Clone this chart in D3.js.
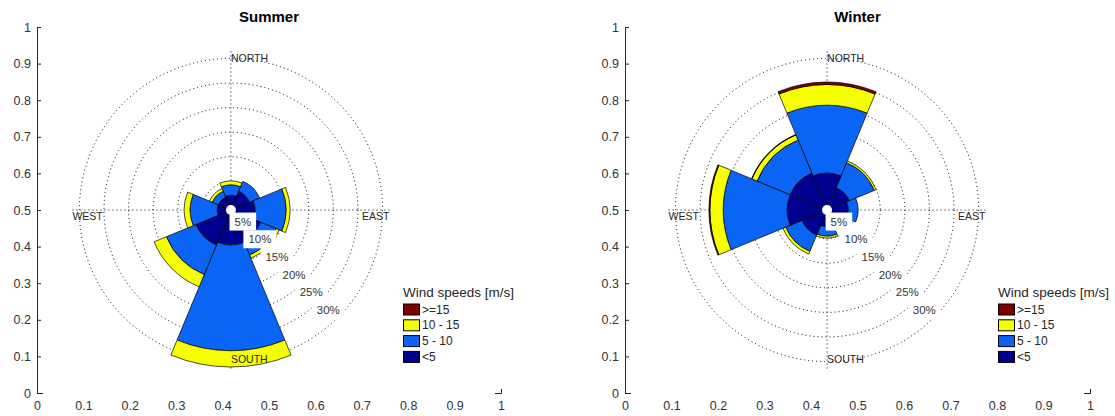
<!DOCTYPE html>
<html>
<head>
<meta charset="utf-8">
<script src="https://cdn.jsdelivr.net/npm/d3@7"></script>
<style>
  html, body { margin: 0; padding: 0; background: #fff; }
  svg text { font-family: "Liberation Sans", Arial, Helvetica, sans-serif; }
</style>
</head>
<body>
<svg id="chart" width="1115" height="416"></svg>
<script>
// ---------------- DATA ----------------
const directions = ["N", "NE", "E", "SE", "S", "SW", "W", "NW"];
const directionAngles = [0, 45, 90, 135, 180, 225, 270, 315];
const binLabels = [">=15", "10 - 15", "5 - 10", "<5"];

// Summer frequencies (%) per direction, per speed bin
const summerLt5   = [2.2, 3.3, 4.1, 5.7, 6.3, 6.9, 2.0, 2.0];
const summer5to10 = [2.1, 2.2, 6.3, 3.4, 21.5, 6.5, 5.5, 1.3];
const summer10to15 = [0.8, 0.0, 0.8, 0.7, 3.3, 2.7, 1.2, 0.6];
const summerGe15  = [0, 0, 0, 0, 0, 0, 0, 0];

// Winter frequencies (%) per direction, per speed bin
const winterLt5   = [6.7, 4.1, 3.5, 2.5, 2.6, 4.7, 7.3, 7.3];
const winter5to10 = [13.8, 5.5, 2.0, 1.0, 1.9, 3.6, 13.0, 7.3];
const winter10to15 = [4.2, 0.4, 0, 0, 0.4, 0.6, 2.7, 1.1];
const winterGe15  = [0.5, 0, 0, 0, 0, 0, 0.2, 0.1];

const ringValues = [5, 10, 15, 20, 25, 30];
const ringLabels = ["5%", "10%", "15%", "20%", "25%", "30%"];
const axisTicks = [0, 0.1, 0.2, 0.3, 0.4, 0.5, 0.6, 0.7, 0.8, 0.9, 1];
const compassLabels = ["NORTH", "EAST", "SOUTH", "WEST"];

// ---------------- STYLE ----------------
const colLt5 = "#00008f", col5to10 = "#0a64f5", col10to15 = "#f5ff00", colGe15 = "#800000";
const binColors = [colGe15, col10to15, col5to10, colLt5];

const svg = d3.select("#chart");

function drawPanel(opts) {
  const { title, x0, x1, centerX, centerY, series, legendX } = opts;
  const xs = d3.scaleLinear().domain([0, 1]).range([x0, x1]);
  const ys = d3.scaleLinear().domain([0, 1]).range([393, 27]);
  const g = svg.append("g");

  // axes
  const yAxis = d3.axisLeft(ys).tickValues(axisTicks).tickSize(-4).tickPadding(6)
      .tickFormat(d3.format("~g"));
  const xAxis = d3.axisBottom(xs).tickValues(axisTicks).tickSize(-4).tickPadding(8)
      .tickFormat(d3.format("~g"));
  const ga = g.append("g").attr("transform", `translate(${x0},0)`).call(yAxis);
  const gb = g.append("g").attr("transform", `translate(0,393)`).call(xAxis);
  [ga, gb].forEach(a => {
    a.select(".domain").attr("stroke", "#262626").attr("stroke-width", 1);
    a.selectAll(".tick line").attr("stroke", "#262626");
    a.selectAll(".tick text").attr("fill", "#333").style("font-size", "12.5px");
  });
  // white area of the rose covers most of the bottom axis line
  g.append("rect").attr("x", xs(0) + 6).attr("y", 380).attr("width", xs(1) - xs(0) - 12)
    .attr("height", 14).attr("fill", "#fff");

  // title
  g.append("text").attr("x", (x0 + x1) / 2).attr("y", 22).attr("text-anchor", "middle")
    .style("font-size", "15px").style("font-weight", "bold").attr("fill", "#000").text(title);

  const cx = xs(centerX), cy = ys(centerY);
  const r = d3.scaleLinear().domain([0, 30]).range([4, 151.6]);
  const axisR = 158.5;
  const rose = g.append("g").attr("transform", `translate(${cx},${cy})`);

  // dotted rings
  rose.selectAll("circle.ring").data(ringValues).join("circle")
    .attr("r", d => r(d)).attr("fill", "none").attr("stroke", "#000")
    .attr("stroke-width", 1).attr("stroke-dasharray", "1 3");
  // dotted cross
  rose.append("line").attr("x1", -axisR).attr("x2", axisR).attr("y1", 0).attr("y2", 0)
    .attr("stroke", "#000").attr("stroke-dasharray", "1 3");
  rose.append("line").attr("y1", -axisR).attr("y2", axisR).attr("x1", 0).attr("x2", 0)
    .attr("stroke", "#000").attr("stroke-dasharray", "1 3");

  // petals
  const stackOrder = [series.lt5, series.s5to10, series.s10to15, series.ge15];
  const stackColors = [colLt5, col5to10, col10to15, colGe15];
  const arc = d3.arc();
  const half = Math.PI / 8;
  const segs = [];
  directions.forEach((dname, i) => {
    let base = 0;
    const a = directionAngles[i] * Math.PI / 180;
    stackOrder.forEach((arr, k) => {
      const v = arr[i];
      if (v > 0) {
        segs.push({ a, inner: base, outer: base + v, color: stackColors[k] });
      }
      base += v;
    });
  });
  rose.selectAll("path.seg").data(segs).join("path")
    .attr("d", d => arc({ innerRadius: r(d.inner), outerRadius: r(d.outer),
                          startAngle: d.a - half, endAngle: d.a + half }))
    .attr("fill", d => d.color).attr("stroke", "#000").attr("stroke-width", 0.7)
    .attr("stroke-linejoin", "round");

  rose.append("circle").attr("r", 5).attr("fill", "#fff");

  // ring labels with white boxes
  const la = 46 * Math.PI / 180;
  ringValues.forEach((v, i) => {
    const tx = r(v) * Math.cos(la) - 8, ty = r(v) * Math.sin(la) - 9;
    const lg = rose.append("g");
    const t = lg.append("text").attr("x", tx).attr("y", ty).attr("text-anchor", "middle")
      .attr("dominant-baseline", "central").style("font-size", "11.5px").attr("fill", "#333")
      .text(ringLabels[i]);
    const bb = t.node().getBBox();
    lg.insert("rect", "text").attr("x", bb.x - 5).attr("y", bb.y - 3)
      .attr("width", bb.width + 10).attr("height", bb.height + 6).attr("fill", "#fff");
  });

  // compass labels
  const cl = rose.append("g").style("font-size", "10.5px").attr("fill", "#262626");
  cl.append("text").attr("x", 0).attr("y", -axisR + 10).text(compassLabels[0]);
  cl.append("text").attr("x", axisR).attr("y", 10).attr("text-anchor", "end").text(compassLabels[1]);
  cl.append("text").attr("x", 0).attr("y", axisR - 6).text(compassLabels[2]);
  cl.append("text").attr("x", -axisR).attr("y", 10).text(compassLabels[3]);

  // legend
  const lgd = g.append("g").attr("transform", `translate(${legendX},0)`);
  lgd.append("text").attr("x", 0).attr("y", 297).style("font-size", "13.5px").attr("fill", "#262626")
    .text("Wind speeds [m/s]");
  binLabels.forEach((lab, i) => {
    const yy = 309.5 + i * 15.8;
    lgd.append("rect").attr("x", 0.5).attr("y", yy - 5.5).attr("width", 16).attr("height", 11)
      .attr("fill", binColors[i]).attr("stroke", "#000").attr("stroke-width", 1);
    lgd.append("text").attr("x", 19).attr("y", yy).attr("dominant-baseline", "central")
      .style("font-size", "12px").attr("fill", "#262626").text(lab);
  });
}

drawPanel({
  title: "Summer", x0: 37, x1: 501, centerX: 0.418, centerY: 0.5, legendX: 403,
  series: { lt5: summerLt5, s5to10: summer5to10, s10to15: summer10to15, ge15: summerGe15 }
});
drawPanel({
  title: "Winter", x0: 625, x1: 1090, centerX: 0.4345, centerY: 0.5, legendX: 998,
  series: { lt5: winterLt5, s5to10: winter5to10, s10to15: winter10to15, ge15: winterGe15 }
});
</script>
</body>
</html>
